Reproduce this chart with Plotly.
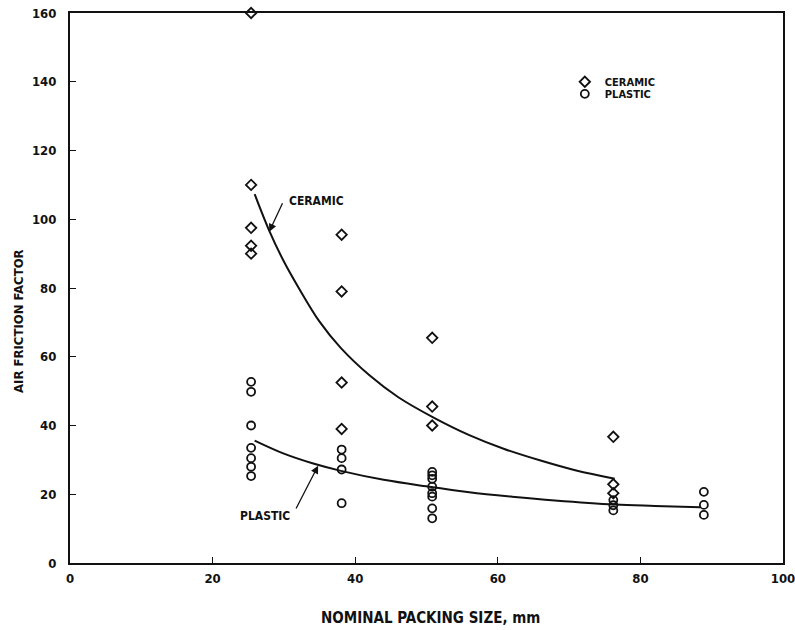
import plotly.graph_objects as go

# Nominal packing sizes (mm) and measured air friction factors
ceramic_size = [25.4, 25.4, 25.4, 25.4, 25.4,
                38.1, 38.1, 38.1, 38.1,
                50.8, 50.8, 50.8,
                76.2, 76.2, 76.2]
ceramic_factor = [160, 110, 97.5, 92.3, 90,
                  95.5, 79, 52.5, 39,
                  65.5, 45.5, 40,
                  36.7, 22.9, 20.3]

plastic_size = [25.4, 25.4, 25.4, 25.4, 25.4, 25.4, 25.4,
                38.1, 38.1, 38.1, 38.1,
                50.8, 50.8, 50.8, 50.8, 50.8, 50.8, 50.8, 50.8,
                76.2, 76.2, 76.2,
                88.9, 88.9, 88.9]
plastic_factor = [52.7, 49.8, 40, 33.5, 30.5, 28, 25.3,
                  33, 30.5, 27.2, 17.4,
                  26.5, 25.5, 24.5, 22.2, 20.3, 19.3, 15.9, 13,
                  18.3, 16.8, 15.3,
                  20.7, 16.9, 14]

# Smoothed trend curves
ceramic_curve_x = [25.9, 28.0, 30.0, 32.0, 35.0, 38.0, 42.0, 46.0, 51.0, 56.0, 61.0, 66.0, 71.0, 76.4]
ceramic_curve_y = [107.3, 96.4, 87.7, 80.3, 70.2, 62.5, 54.6, 48.3, 42.3, 37.2, 33.1, 29.8, 26.9, 24.5]
plastic_curve_x = [25.9, 30.0, 34.0, 38.0, 44.0, 50.0, 56.0, 62.0, 68.0, 76.4, 82.0, 88.4]
plastic_curve_y = [35.6, 31.8, 29.0, 26.8, 24.2, 22.3, 20.6, 19.3, 18.2, 17.0, 16.6, 16.2]

x_ticks = [0, 20, 40, 60, 80, 100]
y_ticks = [0, 20, 40, 60, 80, 100, 120, 140, 160]

FONT = "DejaVu Sans Condensed, Liberation Sans Narrow, sans-serif"
BLACK = "#111111"


def label_font(size):
    return dict(family=FONT, size=size, color=BLACK, weight="bold")


fig = go.Figure()

for cx, cy in ((ceramic_curve_x, ceramic_curve_y), (plastic_curve_x, plastic_curve_y)):
    fig.add_trace(go.Scatter(
        x=cx, y=cy, mode="lines",
        line=dict(color=BLACK, width=2, shape="spline", smoothing=1),
        showlegend=False, hoverinfo="skip"))

fig.add_trace(go.Scatter(
    x=ceramic_size, y=ceramic_factor, mode="markers", name="CERAMIC",
    marker=dict(symbol="diamond-open", size=8, color=BLACK, line=dict(width=1.8)),
    cliponaxis=False, legend="legend"))
fig.add_trace(go.Scatter(
    x=plastic_size, y=plastic_factor, mode="markers", name="PLASTIC",
    marker=dict(symbol="circle-open", size=8, color=BLACK, line=dict(width=1.8)),
    cliponaxis=False, legend="legend2"))

# Curve labels with pointers
fig.add_annotation(x=27.95, y=96.4, ax=29.9, ay=105.1, axref="x", ayref="y",
                   text="", showarrow=True, arrowhead=2, arrowsize=1.2,
                   arrowwidth=1.3, arrowcolor=BLACK)
fig.add_annotation(x=30.5, y=105.2, text="CERAMIC", showarrow=False,
                   xanchor="left", yanchor="middle", font=label_font(12))
fig.add_annotation(x=34.8, y=28.3, ax=31.6, ay=15.4, axref="x", ayref="y",
                   text="", showarrow=True, arrowhead=2, arrowsize=1.2,
                   arrowwidth=1.3, arrowcolor=BLACK)
fig.add_annotation(x=31.1, y=13.8, text="PLASTIC", showarrow=False,
                   xanchor="right", yanchor="middle", font=label_font(12))

# Axis titles
fig.add_annotation(xref="paper", yref="paper", x=0.505, y=0, yshift=-55,
                   text="NOMINAL PACKING SIZE, mm", showarrow=False,
                   xanchor="center", yanchor="middle", font=label_font(15))
fig.add_annotation(xref="paper", yref="paper", x=0, xshift=-52, y=0.44,
                   text="AIR FRICTION FACTOR", showarrow=False, textangle=-90,
                   xanchor="center", yanchor="middle", font=label_font(13))

axis_common = dict(
    showgrid=False, zeroline=False, showline=True, linecolor=BLACK, linewidth=2,
    mirror=True, ticks="inside", ticklen=6, tickwidth=1.3, tickcolor=BLACK,
    tickfont=label_font(13), automargin=False, ticklabeloverflow="allow",
)

fig.update_xaxes(range=[0, 100], tickvals=x_ticks, ticklabelstandoff=2, **axis_common)
fig.update_yaxes(range=[0, 160], tickvals=y_ticks, ticklabelstandoff=9, **axis_common)

key_style = dict(xanchor="left", yanchor="middle", bgcolor="rgba(0,0,0,0)",
                 itemwidth=30, font=label_font(11))
fig.update_layout(
    width=795, height=630,
    margin=dict(l=70, r=12, t=13, b=67),
    paper_bgcolor="white", plot_bgcolor="white",
    showlegend=True,
    legend=dict(x=0.694, y=0.875, **key_style),
    legend2=dict(x=0.694, y=0.853, **key_style),
)

fig.write_html("out.html")
